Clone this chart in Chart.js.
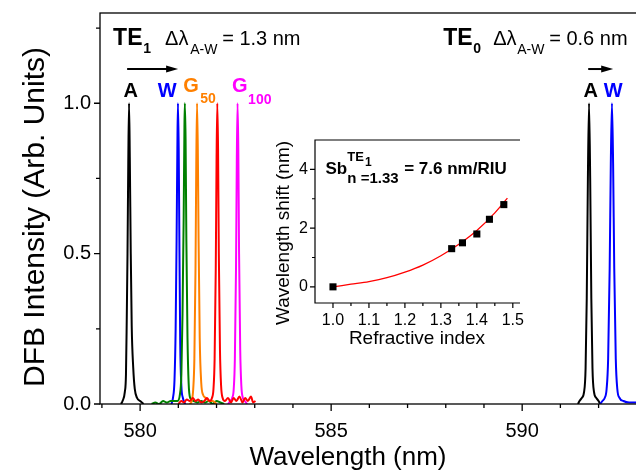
<!DOCTYPE html>
<html>
<head>
<meta charset="utf-8">
<script src="https://cdn.jsdelivr.net/npm/chart.js@4/dist/chart.umd.min.js"></script>
<style>
  html, body { margin: 0; padding: 0; background: #fff; overflow: hidden; width: 636px; height: 470px; }
  #main { position: absolute; left: 0; top: 0; }
  #inset { position: absolute; left: 258px; top: 132px; }
</style>
</head>
<body>
<canvas id="main" width="680" height="470"></canvas>
<canvas id="inset" width="270" height="225"></canvas>
<script>
// ---- DFB emission spectra: [wavelength (nm), normalised intensity] ----
// TE1 mode
const te1Air = [[579.50,0.00],[579.54,0.01],[579.60,0.04],[579.63,0.10],[579.65,0.28],[579.67,0.50],[579.69,0.80],[579.71,1.00],[579.73,0.82],[579.755,0.50],[579.78,0.26],[579.82,0.12],[579.86,0.05],[579.92,0.02],[580.00,0.01],[580.09,0.00]];
const te1Water = [[580.82,0.00],[580.86,0.02],[580.90,0.08],[580.93,0.25],[580.955,0.55],[580.975,0.85],[580.99,1.00],[581.01,0.85],[581.03,0.50],[581.05,0.20],[581.08,0.06],[581.12,0.02],[581.18,0.00]];
const te1G25 = [[580.30,0.00],[580.40,0.005],[580.50,0.00],[580.60,0.01],[580.70,0.005],[580.80,0.01],[580.90,0.01],[580.98,0.01],[581.04,0.03],[581.08,0.10],[581.11,0.30],[581.14,0.62],[581.16,0.92],[581.17,1.00],[581.19,0.88],[581.21,0.55],[581.24,0.22],[581.27,0.07],[581.31,0.02],[581.40,0.01],[581.50,0.005],[581.60,0.01],[581.70,0.005],[581.80,0.01],[581.90,0.00],[582.00,0.01],[582.10,0.005],[582.20,0.00]];
const te1G50 = [[581.30,0.00],[581.35,0.01],[581.39,0.05],[581.42,0.15],[581.45,0.45],[581.47,0.80],[581.49,1.00],[581.51,0.85],[581.53,0.55],[581.56,0.22],[581.60,0.07],[581.65,0.03],[581.72,0.02],[581.80,0.01],[581.90,0.01],[582.00,0.00]];
const te1G75 = [[581.00,0.00],[581.08,0.01],[581.15,0.005],[581.22,0.015],[581.30,0.01],[581.38,0.02],[581.45,0.01],[581.52,0.015],[581.60,0.005],[581.68,0.01],[581.75,0.02],[581.82,0.01],[581.88,0.02],[581.92,0.05],[581.95,0.15],[581.98,0.45],[582.00,0.80],[582.02,1.00],[582.04,0.85],[582.06,0.50],[582.09,0.18],[582.12,0.06],[582.16,0.02],[582.22,0.01],[582.30,0.02],[582.38,0.005],[582.45,0.02],[582.52,0.01],[582.60,0.025],[582.68,0.005],[582.75,0.02],[582.82,0.01],[582.90,0.025],[582.96,0.005],[583.02,0.01]];
const te1G100 = [[582.30,0.00],[582.36,0.01],[582.41,0.02],[582.45,0.05],[582.48,0.15],[582.51,0.45],[582.53,0.80],[582.55,1.00],[582.57,0.85],[582.59,0.50],[582.62,0.18],[582.65,0.06],[582.69,0.02],[582.74,0.01],[582.80,0.00]];
// TE0 mode
const te0Air = [[591.46,0.00],[591.50,0.01],[591.56,0.02],[591.62,0.04],[591.66,0.12],[591.69,0.35],[591.72,0.75],[591.75,1.00],[591.78,0.75],[591.81,0.35],[591.84,0.12],[591.88,0.04],[591.94,0.02],[592.00,0.01],[592.04,0.00]];
const te0Water = [[592.04,0.00],[592.10,0.01],[592.16,0.02],[592.21,0.05],[592.25,0.15],[592.29,0.45],[592.32,0.80],[592.35,1.00],[592.38,0.80],[592.41,0.45],[592.45,0.15],[592.49,0.05],[592.55,0.02],[592.65,0.01],[592.80,0.005],[593.00,0.005],[593.20,0.005],[593.50,0.005],[594.00,0.005]];

// axis ticks of the spectrum plot
const xMajorTicks = [580, 585, 590];
const xMinorTicks = [579, 581, 582, 583, 584, 586, 587, 588, 589, 591, 592, 593];
const yMajorTicks = [0.0, 0.5, 1.0];
const yMinorTicks = [0.25, 0.75, 1.25];

// ---- inset: TE1 peak shift versus refractive index ----
const refIndex = [1.0, 1.33, 1.36, 1.40, 1.435, 1.475];
const shiftNm = [0.0, 1.3, 1.5, 1.8, 2.3, 2.8];
const fitIndex = [1.0, 1.05, 1.1, 1.15, 1.2, 1.25, 1.3, 1.35, 1.4, 1.45, 1.485];
const fitShift = [0.0, 0.09, 0.18, 0.31, 0.50, 0.74, 1.06, 1.45, 1.92, 2.52, 3.02];
const insetXMajor = [1.0, 1.1, 1.2, 1.3, 1.4, 1.5];
const insetXMinor = [1.05, 1.15, 1.25, 1.35, 1.45];
const insetYMajor = [0, 2, 4];
const insetYMinor = [1, 3];

const FONT = "'Liberation Sans', Arial, Helvetica, sans-serif";
const C_BLACK = '#000000', C_BLUE = '#0000ff', C_GREEN = '#008000', C_ORANGE = '#ff8000', C_RED = '#ff0000', C_MAGENTA = '#ff00ff';

const toXY = pts => pts.map(([x, y]) => ({ x, y }));

function lineSet(pts, color) {
  return {
    data: toXY(pts), borderColor: color, backgroundColor: color, borderWidth: 2,
    pointRadius: 0, fill: false, cubicInterpolationMode: 'monotone'
  };
}

// fixed axis sizes, no extra label overhang padding
function fixSize(prop, px) {
  return s => {
    s[prop] = px;
    s.paddingTop = 0; s.paddingBottom = 0; s.paddingLeft = 0; s.paddingRight = 0;
  };
}

// draws a run of text pieces: [text, x, y, font, color, align]
function drawPieces(ctx, pieces) {
  pieces.forEach(([t, x, y, font, color, align]) => {
    ctx.font = font;
    ctx.fillStyle = color;
    ctx.textAlign = align || 'left';
    ctx.textBaseline = 'alphabetic';
    ctx.fillText(t, x, y);
  });
}

function arrow(ctx, x1, x2, y) {
  ctx.save();
  ctx.strokeStyle = '#000'; ctx.fillStyle = '#000'; ctx.lineWidth = 2;
  ctx.beginPath(); ctx.moveTo(x1, y); ctx.lineTo(x2 - 8, y); ctx.stroke();
  ctx.beginPath(); ctx.moveTo(x2, y); ctx.lineTo(x2 - 12, y - 3.5); ctx.lineTo(x2 - 12, y + 3.5); ctx.closePath(); ctx.fill();
  ctx.restore();
}

// frame and outward tick marks of the spectrum plot
const mainFrame = {
  id: 'mainFrame',
  afterDraw(chart) {
    const { ctx, chartArea: a, scales: { x, y } } = chart;
    ctx.save();
    ctx.strokeStyle = '#000'; ctx.lineWidth = 1.3;
    ctx.strokeRect(a.left, a.top, a.right - a.left, a.bottom - a.top);
    ctx.beginPath();
    xMajorTicks.forEach(v => { const p = x.getPixelForValue(v); ctx.moveTo(p, a.bottom); ctx.lineTo(p, a.bottom + 7); });
    xMinorTicks.forEach(v => { const p = x.getPixelForValue(v); ctx.moveTo(p, a.bottom); ctx.lineTo(p, a.bottom + 4); });
    yMajorTicks.forEach(v => { const p = y.getPixelForValue(v); ctx.moveTo(a.left, p); ctx.lineTo(a.left - 6, p); });
    yMinorTicks.forEach(v => { const p = y.getPixelForValue(v); ctx.moveTo(a.left, p); ctx.lineTo(a.left - 4, p); });
    ctx.stroke();

    // axis titles
    ctx.fillStyle = '#000';
    ctx.textAlign = 'center'; ctx.textBaseline = 'alphabetic';
    ctx.font = `26px ${FONT}`;
    ctx.fillText('Wavelength (nm)', 348, 465);
    ctx.save();
    ctx.font = `30px ${FONT}`;
    ctx.translate(44, 217);
    ctx.rotate(-Math.PI / 2);
    ctx.fillText('DFB Intensity (Arb. Units)', 0, 0);
    ctx.restore();

    // mode annotations, anchored to the axes
    const X = v => x.getPixelForValue(v), Y = v => y.getPixelForValue(v);
    const b = s => `bold ${s}px ${FONT}`, n = s => `${s}px ${FONT}`;
    const base = Y(1.1935), sub = Y(1.1636);
    drawPieces(ctx, [
      ['TE', X(579.293), base, b(23), C_BLACK],
      ['1', X(580.079), Y(1.1669), b(14), C_BLACK],
      ['\u0394\u03bb', X(580.654), base, n(20), C_BLACK],
      ['A-W', X(581.309), sub, n(14), C_BLACK],
      ['= 1.3 nm', X(582.147), base, n(20), C_BLACK],
      ['TE', X(587.932), base, b(23), C_BLACK],
      ['0', X(588.717), Y(1.1669), b(14), C_BLACK],
      ['\u0394\u03bb', X(589.241), base, n(20), C_BLACK],
      ['A-W', X(589.869), sub, n(14), C_BLACK],
      ['= 0.6 nm', X(590.707), base, n(20), C_BLACK],
      ['A', X(579.751), Y(1.0197), b(20), C_BLACK, 'center'],
      ['W', X(580.707), Y(1.0197), b(20), C_BLUE, 'center'],
      ['G', X(581.126), Y(1.0363), b(20), C_ORANGE],
      ['50', X(581.571), Y(0.9997), b(14), C_ORANGE],
      ['G', X(582.408), Y(1.0363), b(20), C_MAGENTA],
      ['100', X(582.827), Y(0.9967), b(14), C_MAGENTA],
      ['A', X(591.793), Y(1.0197), b(20), C_BLACK, 'center'],
      ['W', X(592.382), Y(1.0197), b(20), C_BLUE, 'center']
    ]);
    arrow(ctx, X(579.66), X(580.995), Y(1.1137));
    arrow(ctx, X(591.728), X(592.382), Y(1.1137));
    ctx.restore();
  }
};

new Chart(document.getElementById('main'), {
  type: 'line',
  data: {
    datasets: [
      lineSet(te1G75, C_RED),
      lineSet(te1G100, C_MAGENTA),
      lineSet(te1G50, C_ORANGE),
      lineSet(te1G25, C_GREEN),
      lineSet(te1Water, C_BLUE),
      lineSet(te1Air, C_BLACK),
      lineSet(te0Water, C_BLUE),
      lineSet(te0Air, C_BLACK)
    ]
  },
  options: {
    responsive: false, animation: false, devicePixelRatio: 1,
    layout: { padding: { top: 13, right: 5, left: 0, bottom: 0 } },
    plugins: { legend: { display: false }, tooltip: { enabled: false } },
    scales: {
      x: {
        type: 'linear', min: 578.95, max: 594,
        grid: { display: false, drawTicks: false }, border: { display: false },
        afterBuildTicks: s => { s.ticks = xMajorTicks.map(v => ({ value: v })); },
        afterFit: fixSize('height', 66),
        ticks: { font: { family: FONT, size: 20 }, color: '#000', padding: 15, maxRotation: 0, autoSkip: false, callback: v => String(v) }
      },
      y: {
        type: 'linear', min: 0, max: 1.3,
        grid: { display: false, drawTicks: false }, border: { display: false },
        afterBuildTicks: s => { s.ticks = yMajorTicks.map(v => ({ value: v })); },
        afterFit: fixSize('width', 100),
        ticks: { font: { family: FONT, size: 20 }, color: '#000', padding: 9, autoSkip: false, callback: v => Number(v).toFixed(1) }
      }
    }
  },
  plugins: [mainFrame]
});

// frame, ticks, titles and sensitivity label of the inset
const insetFrame = {
  id: 'insetFrame',
  afterDraw(chart) {
    const { ctx, chartArea: a, scales: { x, y } } = chart;
    ctx.save();
    ctx.strokeStyle = '#000'; ctx.lineWidth = 1.2;
    ctx.beginPath();
    ctx.moveTo(a.right, a.top); ctx.lineTo(a.left, a.top); ctx.lineTo(a.left, a.bottom); ctx.lineTo(a.right, a.bottom);
    insetXMajor.forEach(v => { const p = x.getPixelForValue(v); ctx.moveTo(p, a.bottom); ctx.lineTo(p, a.bottom + 5); });
    insetXMinor.forEach(v => { const p = x.getPixelForValue(v); ctx.moveTo(p, a.bottom); ctx.lineTo(p, a.bottom + 3); });
    insetYMajor.forEach(v => { const p = y.getPixelForValue(v); ctx.moveTo(a.left, p); ctx.lineTo(a.left - 5, p); });
    insetYMinor.forEach(v => { const p = y.getPixelForValue(v); ctx.moveTo(a.left, p); ctx.lineTo(a.left - 3, p); });
    ctx.stroke();

    ctx.fillStyle = '#000';
    ctx.font = `19px ${FONT}`;
    ctx.textAlign = 'center'; ctx.textBaseline = 'alphabetic';
    ctx.fillText('Refractive index', 159, 212);
    ctx.save();
    ctx.translate(31, 101);
    ctx.rotate(-Math.PI / 2);
    ctx.fillText('Wavelength shift (nm)', 0, 0);
    ctx.restore();

    const X = v => x.getPixelForValue(v), Y = v => y.getPixelForValue(v);
    const b = s => `bold ${s}px ${FONT}`;
    drawPieces(ctx, [
      ['Sb', X(0.979), Y(3.84), b(17), C_BLACK],
      ['TE', X(1.040), Y(4.29), b(13), C_BLACK],
      ['1', X(1.089), Y(4.12), b(12), C_BLACK],
      ['n =1.33', X(1.040), Y(3.54), b(15), C_BLACK],
      ['= 7.6 nm/RIU', X(1.198), Y(3.84), b(17), C_BLACK]
    ]);
    ctx.restore();
  }
};

new Chart(document.getElementById('inset'), {
  type: 'line',
  data: {
    datasets: [
      {
        data: refIndex.map((v, i) => ({ x: v, y: shiftNm[i] })),
        showLine: false, pointStyle: 'rect', pointRadius: 5,
        pointBackgroundColor: '#000', pointBorderColor: '#000', pointBorderWidth: 0
      },
      {
        data: fitIndex.map((v, i) => ({ x: v, y: fitShift[i] })),
        borderColor: C_RED, borderWidth: 1.3, pointRadius: 0, fill: false,
        cubicInterpolationMode: 'monotone'
      }
    ]
  },
  options: {
    responsive: false, animation: false, devicePixelRatio: 1,
    layout: { padding: { top: 8, right: 8, left: 0, bottom: 0 } },
    plugins: { legend: { display: false }, tooltip: { enabled: false } },
    scales: {
      x: {
        type: 'linear', min: 0.95, max: 1.52,
        grid: { display: false, drawTicks: false }, border: { display: false },
        afterBuildTicks: s => { s.ticks = insetXMajor.map(v => ({ value: v })); },
        afterFit: fixSize('height', 54),
        ticks: { font: { family: FONT, size: 16 }, color: '#000', padding: 8, maxRotation: 0, autoSkip: false, callback: v => Number(v).toFixed(1) }
      },
      y: {
        type: 'linear', min: -0.55, max: 5,
        grid: { display: false, drawTicks: false }, border: { display: false },
        afterBuildTicks: s => { s.ticks = insetYMajor.map(v => ({ value: v })); },
        afterFit: fixSize('width', 57),
        ticks: { font: { family: FONT, size: 16 }, color: '#000', padding: 7, autoSkip: false, callback: v => String(v) }
      }
    }
  },
  plugins: [insetFrame]
});
</script>
</body>
</html>
